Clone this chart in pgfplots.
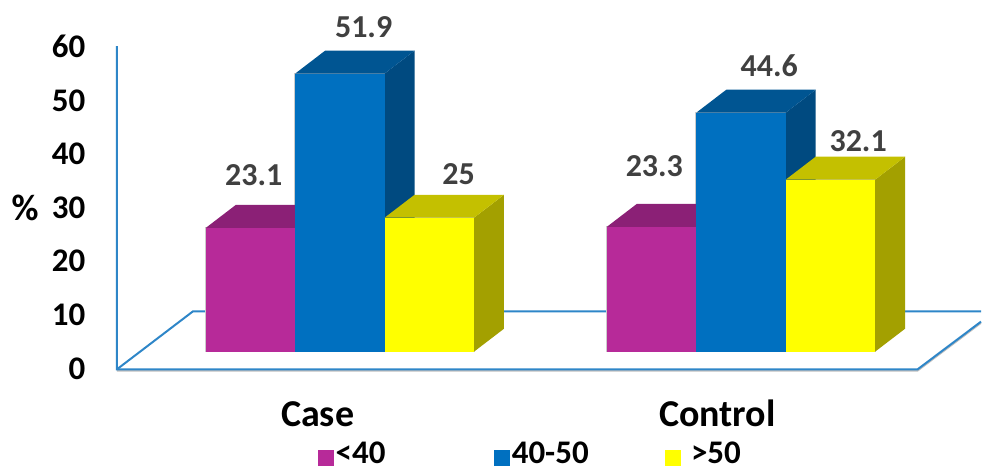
\documentclass[border=0pt]{standalone}
\usepackage{fontspec}
\setmainfont{Carlito}[BoldFont=Carlito Bold]
\usepackage{pgfplots}
\pgfplotsset{compat=1.18}

\definecolor{axisblue}{HTML}{2E86C8}
\definecolor{purpleF}{HTML}{B72A99}
\definecolor{purpleT}{HTML}{8B2076}
\definecolor{purpleS}{HTML}{6F1A60}
\definecolor{blueF}{HTML}{0070C0}
\definecolor{blueT}{HTML}{005592}
\definecolor{blueS}{HTML}{004A80}
\definecolor{yellowF}{HTML}{FFFF00}
\definecolor{yellowT}{HTML}{C4C000}
\definecolor{yellowS}{HTML}{A3A000}
\definecolor{labelgrey}{HTML}{404040}

% Pale edge under a column's front face, drawn before any of the faces.
\newcommand{\baredge}[2]{%
  \pgfmathsetmacro{\xr}{#1+89.5}%
  \pgfmathsetmacro{\yt}{#2+3.3}%
  \addplot[forget plot,draw=gray!40,line width=1.6pt] coordinates {(#1,3.3)(\xr,3.3)(\xr,\yt)(#1,\yt)(#1,3.3)};
}
% Box of a 3D column: left edge, percentage, front, top and side colours.
% The floor sits 3.3 units above zero; depth is 30 units across and 4.28 up.
\newcommand{\threedbar}[5]{%
  \pgfmathsetmacro{\xr}{#1+89.5}%
  \pgfmathsetmacro{\xlb}{#1+30}%
  \pgfmathsetmacro{\xrb}{#1+119.5}%
  \pgfmathsetmacro{\yt}{#2+3.3}%
  \pgfmathsetmacro{\ytb}{#2+3.3+4.28}%
  \addplot[forget plot,fill=#5,draw=none] coordinates {(\xr,3.3)(\xrb,7.58)(\xrb,\ytb)(\xr,\yt)};
  \addplot[forget plot,fill=#4,draw=none] coordinates {(#1,\yt)(\xr,\yt)(\xrb,\ytb)(\xlb,\ytb)};
  \addplot[forget plot,fill=#3,draw=none] coordinates {(#1,3.3)(\xr,3.3)(\xr,\yt)(#1,\yt)};
}
% Value label tied to its percentage, lifted by the given distance.
\newcommand{\valuelabel}[3]{%
  \addplot[forget plot,draw=none,mark=none,nodes near coords,point meta=explicit symbolic,
    nodes near coords style={anchor=center,yshift=#3,text=labelgrey,
      font=\fontsize{32}{34}\selectfont\bfseries}]
    coordinates {(#1,#2)[#2]};
}

\begin{document}
\begin{tikzpicture}
\begin{axis}[
  scale only axis,
  width=982pt,height=466pt,
  xmin=0,xmax=982,
  ymin=-17.95,ymax=68.93,
  axis line style={draw=none},
  tick style={draw=none},
  clip=false,
  xtick={318,718},
  xticklabels={Case,Control},
  ytick={0,10,20,30,40,50,60},
  ytick pos=left,xtick pos=bottom,
  /pgf/number format/assume math mode=true,
  yticklabel style={anchor=east,xshift=89pt,yshift=1pt,font=\fontsize{33}{35}\selectfont\bfseries},
  xticklabel style={anchor=base,yshift=39pt,font=\fontsize{38}{40}\selectfont\bfseries},
  ylabel={\%},
  ylabel style={at={(axis description cs:0.0255,0.553)},rotate=-90,anchor=center,
    font=\fontsize{37}{39}\selectfont\bfseries},
  legend style={at={(axis description cs:0.3245,0.0)},anchor=south west,yshift=-1pt,draw=none,fill=none,
    legend columns=3,inner sep=0pt,outer sep=0pt,font=\fontsize{33}{35}\selectfont\bfseries,
    /tikz/column 2/.style={column sep=107pt},
    /tikz/column 4/.style={column sep=74pt}},
  legend cell align=left,
  legend image code/.code={\fill[#1] (0pt,-12pt) rectangle (15pt,3pt);},
]
% Legend keys
\addlegendimage{purpleF}
\addlegendimage{blueF}
\addlegendimage{yellowF}

% Chart floor and vertical wall, each with a faint shadow
\addplot[forget plot,gray!50,line width=1.5pt,shift={(0pt,-1.5pt)}] coordinates {(117,0)(918.5,0)(982,8.9)};
\addplot[forget plot,axisblue,line width=2pt] coordinates {(117,60.3)(117,0)(918.5,0)(982,8.9)};
\addplot[forget plot,axisblue,line width=2pt] coordinates {(117,0)(193,10.8)(982,10.8)};

% Pale column edges
\baredge{206}{23.1}
\baredge{295.5}{51.9}
\baredge{385}{25}
\baredge{607.5}{23.3}
\baredge{697}{44.6}
\baredge{786.5}{32.1}

% Case
\threedbar{206}{23.1}{purpleF}{purpleT}{purpleS}
\threedbar{295.5}{51.9}{blueF}{blueT}{blueS}
\threedbar{385}{25}{yellowF}{yellowT}{yellowS}
% Control
\threedbar{607.5}{23.3}{purpleF}{purpleT}{purpleS}
\threedbar{697}{44.6}{blueF}{blueT}{blueS}
\threedbar{786.5}{32.1}{yellowF}{yellowT}{yellowS}

% Value labels
\valuelabel{254}{23.1}{71pt}
\valuelabel{364}{51.9}{64pt}
\valuelabel{459}{25}{61pt}
\valuelabel{655}{23.3}{78pt}
\valuelabel{770}{44.6}{65pt}
\valuelabel{859}{32.1}{56pt}

\legend{{<40},{40-50},{\hspace{9pt}>50}}
\end{axis}
\end{tikzpicture}
\end{document}
